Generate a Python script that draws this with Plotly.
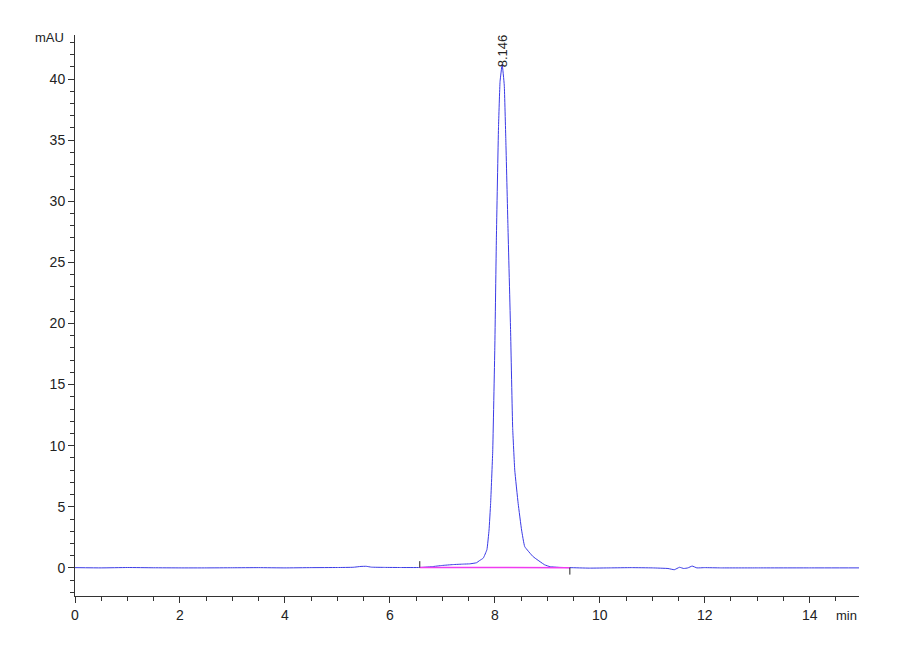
import plotly.graph_objects as go

# chromatogram (time in min, signal in mAU)
time_min = [0.0, 0.5, 1.0, 1.5, 2.0, 2.5, 3.0, 3.5, 4.0, 4.5, 5.0, 5.3, 5.45,
            5.55, 5.65, 5.9, 6.2, 6.57, 6.8, 7.0, 7.2, 7.4, 7.52, 7.65, 7.71,
            7.78, 7.85, 7.89, 7.92, 7.96, 8.0, 8.03, 8.07, 8.1, 8.14, 8.18,
            8.21, 8.25, 8.3, 8.34, 8.38, 8.445, 8.51, 8.57, 8.73, 8.95, 9.05,
            9.24, 9.43, 9.8, 10.2, 10.6, 11.0, 11.3, 11.42, 11.52, 11.6, 11.68,
            11.76, 11.85, 12.0, 12.3, 13.0, 14.0, 14.94]
signal_mau = [0.02, 0.0, 0.03, 0.01, 0.0, 0.0, 0.01, 0.02, 0.0, 0.02, 0.03,
              0.05, 0.12, 0.13, 0.06, 0.04, 0.03, 0.03, 0.1, 0.2, 0.27, 0.31,
              0.33, 0.42, 0.6, 0.8, 1.5, 3.1, 5.27, 9.5, 18.0, 27.0, 36.0,
              39.8, 41.2, 39.5, 35.0, 28.0, 19.5, 11.5, 8.0, 5.27, 3.1, 1.74,
              0.92, 0.25, 0.1, 0.04, 0.02, -0.02, 0.0, 0.02, 0.0, -0.05,
              -0.15, 0.05, -0.05, 0.0, 0.15, 0.0, 0.02, 0.0, 0.0, 0.0, 0.0]

peak_rt = 8.146
peak_height = 41.2
peak_label = "8.146"

# integration baseline (start / end) and its marker ticks
baseline_x = [6.57, 9.43]
baseline_y = [0.03, 0.02]
start_tick_y = [0.03, 0.55]
end_tick_y = [0.02, -0.55]

font_family = "Liberation Sans Narrow, Liberation Sans, Arial"

fig = go.Figure()

fig.add_trace(go.Scatter(
    x=time_min, y=signal_mau, mode="lines",
    line=dict(color="#3a3ae6", width=1, shape="spline", smoothing=0.3),
    hoverinfo="x+y",
))

fig.add_trace(go.Scatter(
    x=baseline_x, y=baseline_y, mode="lines",
    line=dict(color="#f03cf0", width=1.5), hoverinfo="skip",
))

fig.add_trace(go.Scatter(
    x=[baseline_x[0], baseline_x[0]], y=start_tick_y, mode="lines",
    line=dict(color="#222222", width=1), hoverinfo="skip",
))
fig.add_trace(go.Scatter(
    x=[baseline_x[1], baseline_x[1]], y=end_tick_y, mode="lines",
    line=dict(color="#222222", width=1), hoverinfo="skip",
))

# retention time label over the peak
fig.add_annotation(
    x=peak_rt, y=peak_height, text=peak_label, textangle=-90,
    showarrow=False, xanchor="center", yanchor="bottom", yshift=-5,
    font=dict(family=font_family, size=13, color="#222222"),
)

# axis unit labels
fig.add_annotation(
    x=0, y=1, xref="paper", yref="paper", text="mAU", showarrow=False,
    xanchor="right", yanchor="middle", xshift=-9, yshift=-2,
    font=dict(family=font_family, size=13, color="#222222"),
)
fig.add_annotation(
    x=1, y=0, xref="paper", yref="paper", text="min", showarrow=False,
    xanchor="right", yanchor="top", yshift=-10,
    font=dict(family=font_family, size=13, color="#222222"),
)

fig.update_xaxes(
    range=[0, 14.94], tick0=0, dtick=2, ticks="outside", ticklen=6,
    tickcolor="#333333", showline=True, linecolor="#333333", linewidth=1,
    showgrid=False, zeroline=False,
    minor=dict(dtick=0.5, ticks="outside", ticklen=4, tickcolor="#333333"),
    tickfont=dict(family=font_family, size=14, color="#222222"),
)
fig.update_yaxes(
    range=[-2.3, 43.6], tick0=0, dtick=5, ticks="outside", ticklen=6,
    tickcolor="#333333", showline=True, linecolor="#333333", linewidth=1,
    showgrid=False, zeroline=False,
    minor=dict(dtick=1, ticks="outside", ticklen=4, tickcolor="#333333"),
    tickfont=dict(family=font_family, size=14, color="#222222"),
)

fig.update_layout(
    width=900, height=660,
    margin=dict(l=67, r=49, t=27, b=72),
    paper_bgcolor="white", plot_bgcolor="white",
    showlegend=False,
)

fig.write_html("out.html")
